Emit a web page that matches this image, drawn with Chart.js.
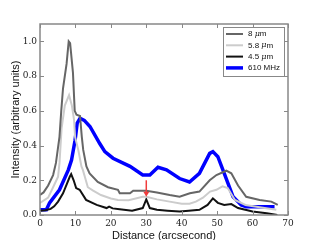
<!DOCTYPE html>
<html>
<head>
<meta charset="utf-8">
<script src="https://cdn.jsdelivr.net/npm/chart.js@4/dist/chart.umd.min.js"></script>
<style>
  html, body { margin: 0; padding: 0; background: #fff; }
  #wrap { width: 320px; height: 240px; }
</style>
</head>
<body>
<div id="wrap"><canvas id="c" width="320" height="240"></canvas></div>
<script>
// profile data (distance in arcsec, intensity in arbitrary units)
const x8 = [0, 1, 2.3, 3.7, 4.5, 5.5, 6, 6.5, 7.5, 8.1, 8.5, 9.3, 9.8, 10.3, 11.3, 11.8, 12.2, 13.1, 14, 16.3, 19.2, 22, 22.5, 25.4, 26.3, 30, 33, 36.6, 39.4, 42.3, 45, 47.9, 49.8, 52.6, 54, 55.9, 58.2, 62, 65.3, 67.1];
const y8 = [0.115, 0.13, 0.17, 0.23, 0.3, 0.45, 0.6, 0.73, 0.87, 1.0, 0.99, 0.82, 0.6, 0.578, 0.57, 0.45, 0.375, 0.28, 0.24, 0.19, 0.16, 0.145, 0.125, 0.125, 0.14, 0.14, 0.13, 0.115, 0.105, 0.125, 0.135, 0.2, 0.23, 0.255, 0.24, 0.17, 0.105, 0.087, 0.077, 0.058];

const x58 = [0, 2.3, 3.7, 5.1, 5.5, 6.1, 7, 8.2, 9, 9.6, 9.9, 10.8, 11.7, 12.1, 13.5, 15, 17.2, 20, 22, 25, 29, 30, 33, 36.6, 40, 42.2, 44, 46, 48, 49.8, 51.5, 53, 55, 58, 62, 66.7];
const y58 = [0.07, 0.1, 0.16, 0.22, 0.3, 0.5, 0.63, 0.69, 0.63, 0.55, 0.45, 0.375, 0.28, 0.26, 0.16, 0.14, 0.115, 0.095, 0.087, 0.085, 0.105, 0.105, 0.09, 0.077, 0.065, 0.065, 0.077, 0.1, 0.135, 0.145, 0.165, 0.155, 0.087, 0.058, 0.045, 0.03];

const x45 = [0, 1.5, 3, 4, 5.1, 6.5, 8.4, 8.8, 9.5, 10.2, 11.2, 13, 16, 18.8, 19.5, 20.5, 22.5, 26, 29, 30, 31, 33, 36, 39.4, 42, 45, 47.3, 48.8, 50.2, 52, 54, 55.9, 60, 64, 67];
const y45 = [0.025, 0.028, 0.035, 0.05, 0.077, 0.125, 0.22, 0.235, 0.2, 0.155, 0.145, 0.087, 0.058, 0.04, 0.048, 0.038, 0.033, 0.025, 0.04, 0.09, 0.04, 0.03, 0.025, 0.02, 0.025, 0.03, 0.058, 0.096, 0.07, 0.058, 0.063, 0.04, 0.02, 0.01, 0.0];

const xRadio = [0, 1.8, 2.7, 5.5, 8, 8.9, 9.9, 10.5, 11.3, 12.5, 14.1, 16.9, 18.3, 20.6, 25.4, 29, 31, 33.3, 35.7, 39.4, 42.2, 45, 47.9, 48.8, 50.2, 52, 54.5, 56.8, 58.2, 62, 66.2];
const yRadio = [0.03, 0.03, 0.07, 0.145, 0.26, 0.317, 0.43, 0.53, 0.557, 0.545, 0.51, 0.41, 0.365, 0.327, 0.28, 0.23, 0.23, 0.275, 0.26, 0.21, 0.19, 0.24, 0.355, 0.365, 0.336, 0.24, 0.105, 0.058, 0.048, 0.048, 0.048];

const xTicks = [0, 10, 20, 30, 40, 50, 60, 70];
const yTicks = [0.0, 0.2, 0.4, 0.6, 0.8, 1.0];
const arrowAt = [30, 0.2, 0.105]; // x, from y, to y

function pts(xs, ys) {
    return xs.map((x, i) => ({ x: x, y: ys[i] }));
}

const series = [
    { label: "8 \u03bcm", data: pts(x8, y8), color: "#666666", width: 2 },
    { label: "5.8 \u03bcm", data: pts(x58, y58), color: "#cccccc", width: 2 },
    { label: "4.5 \u03bcm", data: pts(x45, y45), color: "#111111", width: 2 },
    { label: "610 MHz", data: pts(xRadio, yRadio), color: "#0000ff", width: 3.5 }
];

// frame, inward ticks, arrow and legend
const decorPlugin = {
    id: "decor",
    afterDatasetsDraw(chart) {
        const ctx = chart.ctx;
        const a = chart.chartArea;
        const xs = chart.scales.x, ys = chart.scales.y;
        ctx.save();
        ctx.strokeStyle = "#888";
        ctx.lineWidth = 1.5;
        ctx.strokeRect(a.left, a.top, a.right - a.left, a.bottom - a.top);
        ctx.lineWidth = 1;
        ctx.beginPath();
        xTicks.forEach(t => {
            const px = Math.round(xs.getPixelForValue(t)) + 0.5;
            ctx.moveTo(px, a.bottom); ctx.lineTo(px, a.bottom - 4);
            ctx.moveTo(px, a.top); ctx.lineTo(px, a.top + 4);
        });
        yTicks.forEach(t => {
            const py = Math.round(ys.getPixelForValue(t)) + 0.5;
            ctx.moveTo(a.left, py); ctx.lineTo(a.left + 4, py);
            ctx.moveTo(a.right, py); ctx.lineTo(a.right - 4, py);
        });
        ctx.stroke();

        // red arrow
        const ax = xs.getPixelForValue(arrowAt[0]);
        const ay0 = ys.getPixelForValue(arrowAt[1]);
        const ay1 = ys.getPixelForValue(arrowAt[2]);
        ctx.strokeStyle = "#f03c3c";
        ctx.fillStyle = "#f03c3c";
        ctx.lineWidth = 1.5;
        ctx.beginPath();
        ctx.moveTo(ax, ay0); ctx.lineTo(ax, ay1 - 4);
        ctx.stroke();
        ctx.beginPath();
        ctx.moveTo(ax - 3, ay1 - 5); ctx.lineTo(ax + 3, ay1 - 5); ctx.lineTo(ax, ay1);
        ctx.closePath();
        ctx.fill();

        // legend box
        const bx = 223, by = 27, bw = 61, bh = 49;
        ctx.fillStyle = "#fff";
        ctx.fillRect(bx, by, bw, bh);
        ctx.strokeStyle = "#888";
        ctx.lineWidth = 1;
        ctx.strokeRect(bx + 0.5, by + 0.5, bw, bh);
        ctx.textBaseline = "middle";
        series.forEach((s, i) => {
            const ry = 34 + i * 11.3;
            ctx.strokeStyle = s.color;
            ctx.lineWidth = s.width;
            ctx.beginPath();
            ctx.moveTo(226, ry); ctx.lineTo(243, ry);
            ctx.stroke();
            ctx.fillStyle = "#111";
            let tx = 248;
            const parts = s.label.split("\u03bc");
            ctx.font = "8px 'Liberation Sans', Arial, sans-serif";
            ctx.fillText(parts[0], tx, ry);
            if (parts.length > 1) {
                tx += ctx.measureText(parts[0]).width;
                ctx.font = "italic 8px 'DejaVu Serif', serif";
                ctx.fillText("\u03bc", tx, ry);
                tx += ctx.measureText("\u03bc").width;
                ctx.font = "8px 'Liberation Sans', Arial, sans-serif";
                ctx.fillText(parts[1], tx, ry);
            }
        });
        ctx.restore();
    }
};

new Chart(document.getElementById("c").getContext("2d"), {
    type: "line",
    data: {
        datasets: series.map(s => ({
            label: s.label,
            data: s.data,
            borderColor: s.color,
            borderWidth: s.width,
            pointRadius: 0,
            tension: 0,
            fill: false
        }))
    },
    options: {
        responsive: false,
        animation: false,
        devicePixelRatio: 1,
        layout: { padding: { top: 24, right: 32, left: 0, bottom: 0 } },
        plugins: { legend: { display: false }, tooltip: { enabled: false } },
        scales: {
            x: {
                type: "linear",
                min: 0, max: 70,
                afterBuildTicks: sc => { sc.ticks = xTicks.map(v => ({ value: v })); },
                afterFit: sc => { sc.height = 25; },
                grid: { display: false, drawTicks: false },
                border: { display: false },
                ticks: {
                    padding: 3,
                    color: "#222",
                    font: { family: "'DejaVu Serif', serif", size: 9 },
                    callback: v => String(v)
                },
                title: {
                    display: true, text: "Distance (arcsecond)", color: "#111",
                    font: { family: "'Liberation Sans', Arial, sans-serif", size: 11 },
                    padding: { top: 0, bottom: -3 }
                }
            },
            y: {
                min: 0, max: 1.1,
                afterBuildTicks: sc => { sc.ticks = yTicks.map(v => ({ value: v })); },
                afterFit: sc => { sc.width = 40; },
                grid: { display: false, drawTicks: false },
                border: { display: false },
                ticks: {
                    padding: 3,
                    color: "#222",
                    font: { family: "'DejaVu Serif', serif", size: 9 },
                    callback: v => v.toFixed(1)
                },
                title: {
                    display: true, text: "Intensity (arbitrary units)", color: "#111",
                    font: { family: "'Liberation Sans', Arial, sans-serif", size: 11 },
                    padding: { top: 9, bottom: 0 }
                }
            }
        }
    },
    plugins: [decorPlugin]
});
</script>
</body>
</html>
